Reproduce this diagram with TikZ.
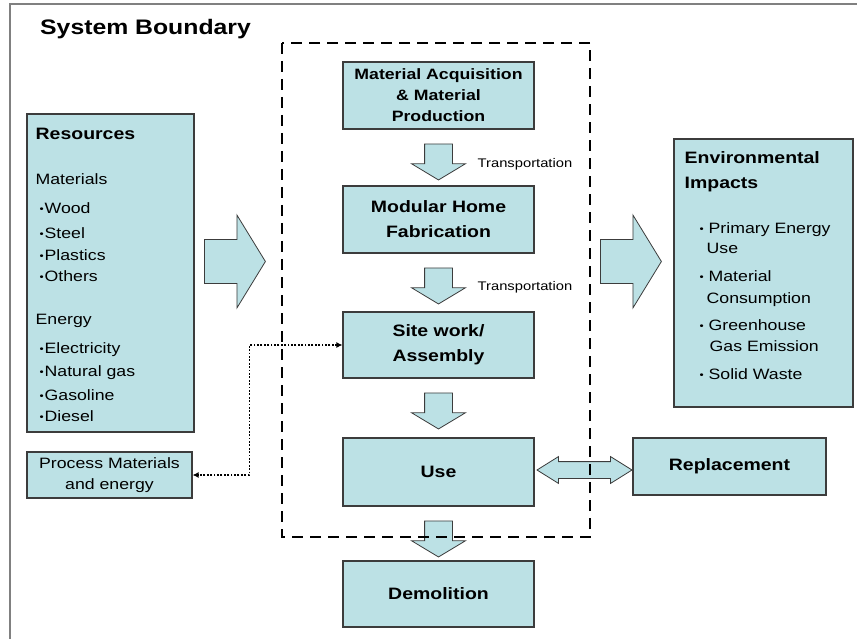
\documentclass[tikz,border=0pt]{standalone}
\usepackage{fontspec}
\setmainfont{Liberation Sans}[FakeStretch=1.18]
\usetikzlibrary{positioning}
\usetikzlibrary{shapes.arrows}
\usetikzlibrary{arrows.meta}
\definecolor{boxfill}{RGB}{188,225,229}
\definecolor{boxline}{RGB}{60,60,60}
\newcommand{\hd}[1]{{\fontsize{16.5}{21}\selectfont\bfseries #1}}
\newcommand{\dotitem}{\makebox[9pt][l]{\fontsize{10}{10}\selectfont\raisebox{1pt}{\textbullet}}}
\newcommand{\tightdot}{\makebox[5pt][l]{\fontsize{10}{10}\selectfont\raisebox{1pt}{\textbullet}}}
\tikzset{
    panel/.style = {rectangle, draw=boxline, line width=1.1pt, fill=boxfill, inner sep=0pt},
    stage/.style = {panel, minimum width=191pt, minimum height=67pt, align=center, font=\fontsize{16.5}{25}\selectfont\bfseries},
    listtext/.style = {align=left, inner sep=0pt, font=\fontsize{15}{21}\selectfont},
    note/.style = {inner sep=0pt, font=\fontsize{12.5}{15}\selectfont},
    blockdown/.style = {single arrow, draw=boxline, fill=boxfill, line width=0.8pt, inner xsep=13.5pt, inner ysep=0pt,
        shape border rotate=270, minimum height=36pt, minimum width=53pt,
        single arrow head extend=13pt, single arrow tip angle=118},
    blockright/.style = {single arrow, draw=boxline, fill=boxfill, line width=0.8pt, inner xsep=0pt, inner ysep=21.5pt,
        minimum height=61pt, minimum width=92pt,
        single arrow head extend=24.5pt, single arrow tip angle=117},
    blockboth/.style = {double arrow, draw=boxline, fill=boxfill, line width=0.8pt, inner xsep=0pt, inner ysep=8pt,
        minimum height=95pt, minimum width=26pt,
        double arrow head extend=5pt, double arrow tip angle=64},
    boundary/.style = {draw=black, line width=2pt, dash pattern=on 11pt off 7pt},
    procline/.style = {{Latex[length=6pt,width=6pt]}-{Latex[length=6pt,width=6pt]}, line width=1.8pt, dash pattern=on 1.8pt off 1.6pt},
    frame/.style = {draw=gray, line width=1.5pt}
}
\begin{document}
\begin{tikzpicture}[x=1pt,y=-1pt]
\useasboundingbox (0,0) rectangle (857,639);
\draw[frame] (857,4) -- (10,4) -- (10,639);
%
\node[anchor=west, inner sep=0pt, font=\fontsize{21}{25}\selectfont\bfseries] (title) at (40,29) {System Boundary};
%
% life cycle stages
\node[stage, font=\fontsize{15}{21}\selectfont\bfseries] at (438.5,95.5) (acq) {Material Acquisition\\\& Material\\Production};
\node[stage] at (438.5,219.5) (fab) {Modular Home\\Fabrication};
\node[stage, minimum height=66pt] at (438.5,345) (site) {Site work/\\Assembly};
\node[stage, minimum height=68pt] at (438.5,472) (use) {Use};
\node[stage, minimum height=66pt] at (438.5,594) (demo) {Demolition};
%
\node[blockdown, below=14pt of acq, anchor=tail] (tr1) {};
\node[blockdown, below=14pt of fab, anchor=tail] (tr2) {};
\node[blockdown, below=14pt of site, anchor=tail] (a3) {};
\node[blockdown, below=14pt of use, anchor=tail] (a4) {};
\node[note, anchor=west] at ([xshift=39pt,yshift=-6pt]tr1.center) {Transportation};
\node[note, anchor=west] at ([xshift=39pt,yshift=-5pt]tr2.center) {Transportation};
%
% inputs
\node[panel, minimum width=167pt, minimum height=318pt] at (110.5,273) (res) {};
\node[listtext, anchor=north west] at ([shift={(9,14)}]res.north west) (restext) {%
\hd{Resources}\\[24pt]
Materials\\[8pt]
\hspace*{4pt}\tightdot Wood\\[4pt]
\hspace*{4pt}\tightdot Steel\\[1pt]
\hspace*{4pt}\tightdot Plastics\\
\hspace*{4pt}\tightdot Others\\[22pt]
Energy\\[8pt]
\hspace*{4pt}\tightdot Electricity\\[2pt]
\hspace*{4pt}\tightdot Natural gas\\[3pt]
\hspace*{4pt}\tightdot Gasoline\\
\hspace*{4pt}\tightdot Diesel};
\node[panel, minimum width=165pt, minimum height=46pt, align=center, font=\fontsize{15}{21}\selectfont] at (109.5,475) (proc) {Process Materials\\and energy};
%
% outputs
\node[panel, minimum width=179pt, minimum height=268pt] at (763.5,273) (env) {};
\node[listtext, anchor=north west] at ([shift={(11,13)}]env.north west) (envtext) {%
\hd{Environmental}\\[4pt]
\hd{Impacts}\\[24pt]
\hspace*{15pt}\dotitem Primary Energy\\[-1pt]
\hspace*{22pt}Use\\[7pt]
\hspace*{15pt}\dotitem Material\\[1pt]
\hspace*{22pt}Consumption\\[6pt]
\hspace*{15pt}\dotitem Greenhouse\\
\hspace*{25pt}Gas Emission\\[7pt]
\hspace*{15pt}\dotitem Solid Waste};
\node[panel, minimum width=193pt, minimum height=57pt, font=\fontsize{16.5}{21}\selectfont\bfseries] at (729.5,466.5) (repl) {Replacement};
%
\node[blockright, anchor=tail] at (204,261.5) (inarr) {};
\node[blockright, anchor=tail] at (600,261.5) (outarr) {};
\node[blockboth] at (584.5,470) (swap) {};
%
\draw[procline] (site.west) -- ++(-93,0) |- (proc.east);
%
\draw[boundary] (282,43) rectangle (590,537);
\end{tikzpicture}
\end{document}
